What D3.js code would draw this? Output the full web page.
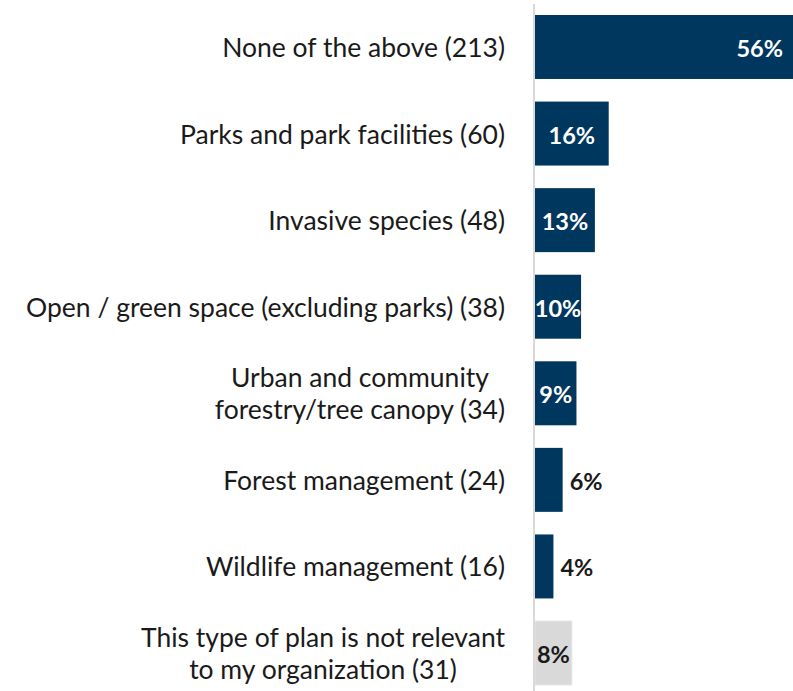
<!DOCTYPE html>
<html><head><meta charset="utf-8">
<script src="https://cdn.jsdelivr.net/npm/d3@7"></script>
<style>body{margin:0;background:#fff;overflow:hidden}</style>
</head><body>
<svg id="c" width="793" height="691"></svg>
<script>
const categories = [
  ["None of the above (213)"],
  ["Parks and park facilities (60)"],
  ["Invasive species (48)"],
  ["Open / green space (excluding parks) (38)"],
  ["Urban and community", "forestry/tree canopy (34)"],
  ["Forest management (24)"],
  ["Wildlife management (16)"],
  ["This type of plan is not relevant", "to my organization (31)"]
];
const values = [56, 16, 13, 10, 9, 6, 4, 8];
const valueLabels = ["56%", "16%", "13%", "10%", "9%", "6%", "4%", "8%"];
const isOther = [false, false, false, false, false, false, false, true];

const svg = d3.select("#c");
const font = "Lato, 'Open Sans', sans-serif";
const x = d3.scaleLinear().domain([0, 56]).range([535, 793]);
const y = d3.scaleBand().domain(d3.range(categories.length)).range([-7.6, 707.6]).padding(0.261);

const navy = "#00375F", grey = "#D9D9D9";

svg.selectAll("rect.bar").data(values).join("rect")
  .attr("class", "bar")
  .attr("x", x(0))
  .attr("y", (d, i) => y(i))
  .attr("width", d => x(d) - x(0))
  .attr("height", y.bandwidth())
  .attr("fill", (d, i) => isOther[i] ? grey : navy)
  .attr("stroke", (d, i) => isOther[i] ? "#e6e6e6" : "none");

svg.append("line").attr("x1", 534).attr("x2", 534).attr("y1", 4).attr("y2", 691)
  .attr("stroke", "#d9d9d9").attr("stroke-width", 2);

// category labels
const labelRight = 505, lineH = 32;
categories.forEach((lines, i) => {
  const cy = y(i) + y.bandwidth() / 2;
  const g = svg.append("g");
  const texts = lines.map((t, j) => g.append("text")
    .attr("font-family", font).attr("font-size", 26.5).attr("fill", "#1a1a1a")
    .attr("dominant-baseline", "central")
    .attr("y", cy + (j - (lines.length - 1) / 2) * lineH)
    .text(t));
  const maxW = d3.max(texts, t => t.node().getComputedTextLength());
  texts.forEach(t => t.attr("text-anchor", "middle").attr("x", labelRight - maxW / 2));
});

// value labels
values.forEach((v, i) => {
  const cy = y(i) + y.bandwidth() / 2;
  const w = x(v) - x(0);
  const t = svg.append("text").attr("font-family", font).attr("font-weight", "bold")
    .attr("font-size", 23.5).attr("dominant-baseline", "central").attr("y", cy + 1).text(valueLabels[i]);
  if (w > 100) {
    t.attr("text-anchor", "end").attr("x", x(v) - 10).attr("fill", "#fff");
  } else if (isOther[i]) {
    t.attr("text-anchor", "middle").attr("x", x(0) + w / 2).attr("fill", "#1a1a1a");
  } else if (v >= 9) {
    t.attr("text-anchor", "middle").attr("x", x(0) + w / 2).attr("fill", "#fff");
  } else {
    t.attr("text-anchor", "start").attr("x", x(v) + 7).attr("fill", "#1a1a1a");
  }
});
</script>
</body></html>
